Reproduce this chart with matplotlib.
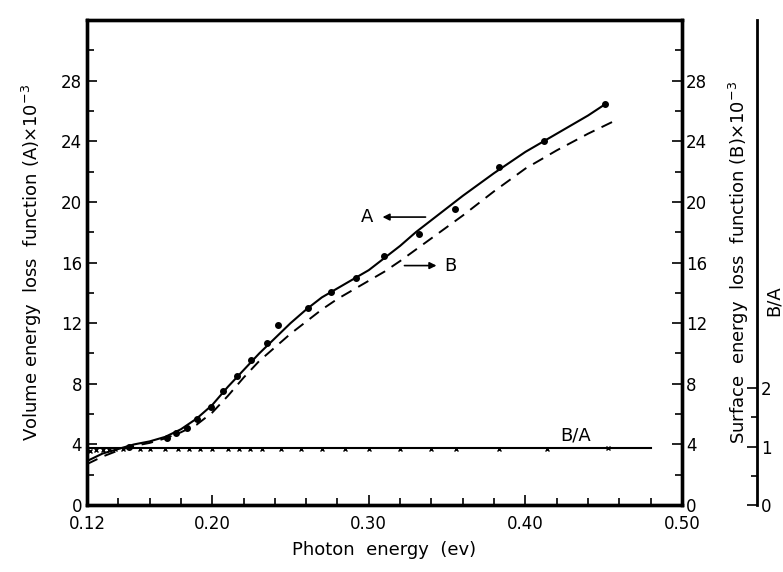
import matplotlib
matplotlib.use("Agg")
import matplotlib.pyplot as plt
from matplotlib.ticker import MultipleLocator, FixedLocator

# ---- data ----
a_line_x = [0.12, 0.13, 0.14, 0.15, 0.16, 0.17, 0.18, 0.19, 0.20, 0.21, 0.22, 0.23, 0.24,
            0.25, 0.26, 0.27, 0.28, 0.29, 0.30, 0.31, 0.32, 0.33, 0.34, 0.35, 0.36, 0.38,
            0.40, 0.42, 0.44, 0.451]
a_line_y = [2.9, 3.4, 3.7, 4.0, 4.2, 4.5, 5.0, 5.7, 6.6, 7.8, 8.9, 10.0, 11.0,
            12.0, 12.9, 13.7, 14.3, 14.9, 15.5, 16.3, 17.1, 18.0, 18.8, 19.6, 20.4, 21.9,
            23.3, 24.5, 25.7, 26.45]

a_pts_x = [0.147, 0.171, 0.177, 0.184, 0.190, 0.199, 0.207, 0.216, 0.225, 0.235, 0.242,
           0.261, 0.276, 0.292, 0.310, 0.332, 0.355, 0.383, 0.412, 0.451]
a_pts_y = [3.8, 4.4, 4.75, 5.1, 5.7, 6.5, 7.5, 8.5, 9.6, 10.7, 11.9,
           13.0, 14.05, 15.0, 16.4, 17.9, 19.5, 22.3, 24.0, 26.45]

b_x = [0.12, 0.13, 0.14, 0.15, 0.16, 0.17, 0.18, 0.19, 0.20, 0.21, 0.22, 0.23, 0.24, 0.25,
       0.26, 0.27, 0.28, 0.29, 0.30, 0.31, 0.32, 0.34, 0.36, 0.38, 0.40, 0.42, 0.44, 0.456]
b_y = [2.7, 3.2, 3.6, 3.9, 4.1, 4.4, 4.8, 5.3, 6.1, 7.2, 8.4, 9.5, 10.4, 11.3,
       12.1, 12.9, 13.6, 14.2, 14.8, 15.4, 16.1, 17.6, 19.1, 20.7, 22.2, 23.4, 24.5, 25.3]

ratio_line_x = [0.12, 0.48]
ratio_line_y = [0.975, 0.975]
ratio_pts_x = [0.122, 0.126, 0.130, 0.134, 0.138, 0.143, 0.154, 0.160, 0.170, 0.178, 0.185,
               0.192, 0.200, 0.210, 0.217, 0.224, 0.232, 0.244, 0.257, 0.270, 0.285,
               0.300, 0.320, 0.340, 0.356, 0.383, 0.414, 0.453]
ratio_pts_y = [0.93, 0.94, 0.95, 0.95, 0.96, 0.96, 0.96, 0.96, 0.96, 0.96, 0.96,
               0.96, 0.96, 0.96, 0.96, 0.96, 0.96, 0.96, 0.96, 0.96, 0.96,
               0.96, 0.96, 0.96, 0.965, 0.965, 0.965, 0.97]

x_ticks = [0.12, 0.20, 0.30, 0.40, 0.50]
x_tick_labels = ["0.12", "0.20", "0.30", "0.40", "0.50"]
y_ticks = [0, 4, 8, 12, 16, 20, 24, 28]
ratio_ticks = [0, 1, 2]

plt.rcParams['font.family'] = ['DejaVu Sans']
fig = plt.figure(figsize=(7.83, 5.72), dpi=100)
ax = fig.add_axes([0.111, 0.117, 0.760, 0.848])

lw_spine = 2.4
ax.plot(a_line_x, a_line_y, color='black', lw=1.5)
ax.plot(a_pts_x, a_pts_y, 'o', color='black', ms=4)
ax.plot(b_x, b_y, color='black', lw=1.4, ls=(0, (6, 4)))

ax.set_xlim(0.12, 0.50)
ax.set_ylim(0, 32)
ax.xaxis.set_major_locator(FixedLocator(x_ticks))
ax.set_xticklabels(x_tick_labels)
ax.xaxis.set_minor_locator(MultipleLocator(0.02))
ax.yaxis.set_major_locator(FixedLocator(y_ticks))
ax.yaxis.set_minor_locator(MultipleLocator(2))
ax.tick_params(which='both', direction='in', labelsize=12, width=1.2)
ax.tick_params(which='major', length=7)
ax.tick_params(which='minor', length=5)
ax.tick_params(axis='x', pad=7)
for s in ax.spines.values():
    s.set_linewidth(lw_spine)
ax.set_xlabel("Photon  energy  (ev)", fontsize=13, labelpad=6)
ax.set_ylabel("Volume energy  loss  function (A)×10$^{-3}$", fontsize=13, labelpad=12)

# right axis (surface loss function B)
axr = ax.twinx()
axr.set_ylim(0, 32)
axr.yaxis.set_major_locator(FixedLocator(y_ticks))
axr.yaxis.set_minor_locator(MultipleLocator(2))
axr.tick_params(which='both', direction='in', labelsize=12, width=1.2, pad=3)
axr.tick_params(which='major', length=7)
axr.tick_params(which='minor', length=5)
for s in axr.spines.values():
    s.set_linewidth(lw_spine)
axr.set_ylabel("Surface  energy  loss  function (B)×10$^{-3}$", fontsize=13, labelpad=14)

# B/A axis
axq = ax.twinx()
axq.spines['right'].set_position(('axes', 1.126))
for k in ['top', 'left', 'bottom']:
    axq.spines[k].set_visible(False)
axq.spines['right'].set_linewidth(2.0)
axq.set_ylim(0, 8.3)
axq.yaxis.set_major_locator(FixedLocator(ratio_ticks))
axq.yaxis.set_minor_locator(FixedLocator([0.5, 1.5]))
axq.tick_params(which='both', direction='in', labelsize=12, width=1.2, pad=3)
axq.tick_params(which='major', length=7)
axq.tick_params(which='minor', length=4)
axq.plot(ratio_line_x, ratio_line_y, color='black', lw=1.5, clip_on=False)
axq.plot(ratio_pts_x, ratio_pts_y, 'x', color='black', ms=3, mew=1.0)
axq.set_yticklabels(["0", "1", "2"])
fig.text(0.988, 0.475, "B/A", rotation=90, fontsize=13, ha='center', va='center')

# annotations
ax.text(0.299, 19.0, "A", fontsize=13, ha='center', va='center')
ax.annotate("", xy=(0.307, 19.0), xytext=(0.338, 19.0),
            arrowprops=dict(arrowstyle='-|>', color='black', lw=1.2, mutation_scale=10))
ax.annotate("", xy=(0.345, 15.8), xytext=(0.321, 15.8),
            arrowprops=dict(arrowstyle='-|>', color='black', lw=1.2, mutation_scale=10))
ax.text(0.352, 15.8, "B", fontsize=13, ha='center', va='center')
ax.text(0.432, 4.6, "B/A", fontsize=13, ha='center', va='center')

fig.savefig("out.png", dpi=100)
